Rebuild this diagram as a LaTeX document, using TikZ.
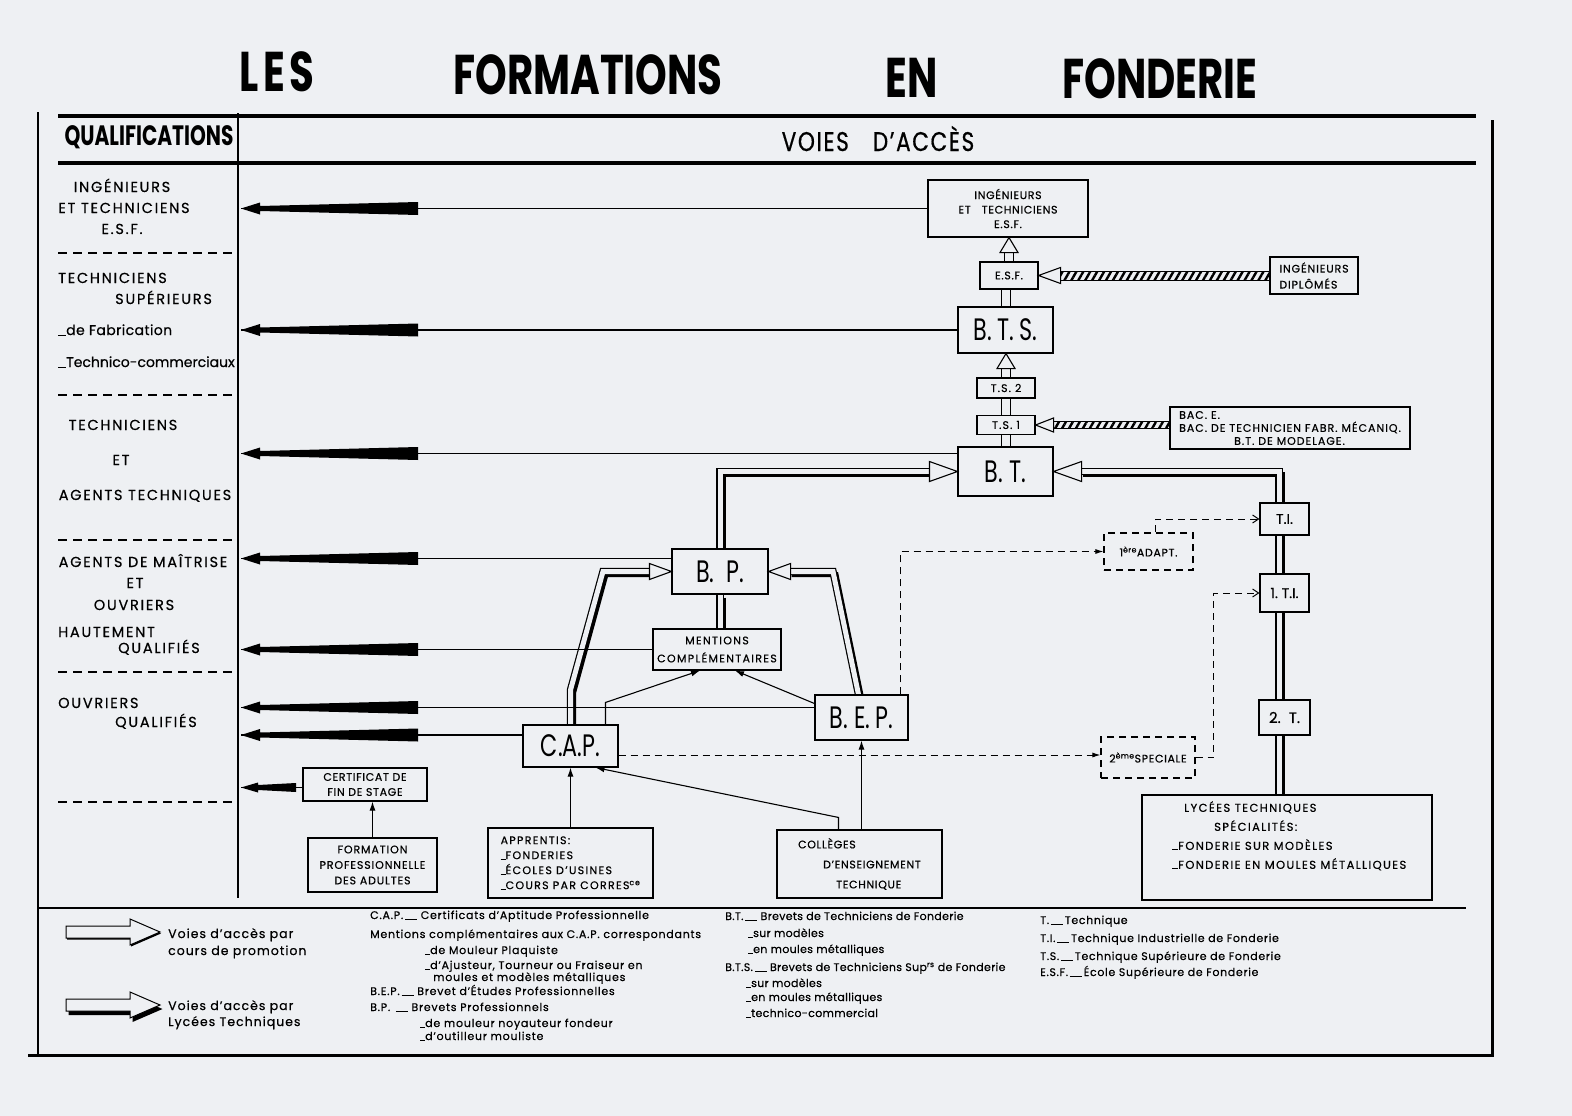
\documentclass[tikz,border=0pt]{standalone}
\usepackage{fontspec}
\setmainfont{Poppins}[FakeBold=0.5]
\newfontfamily\etroit[FakeStretch=0.72]{Poppins}
\newfontfamily\entete[FakeStretch=0.8,FakeBold=0.6]{Poppins}
\usetikzlibrary{arrows.meta,calc,backgrounds,patterns.meta}
\definecolor{Papier}{HTML}{EEF0F3}
\newcommand\trait[1][8pt]{\rule[-0.5pt]{#1}{0.9pt}}
\newcommand\ls[1]{\addfontfeatures{LetterSpace=#1}}
% tete creuse : pointe, angle, longueur, demi-largeur
\newcommand\tete[4]{\filldraw[fill=Papier, line width=1.1pt, shift={#1}, rotate=#2]
  (0,0) -- (-#3,#4) -- (-#3,-#4) -- cycle;}
% voie d'acces : ombre puis double trait
\newcommand\voie[1]{\draw[ombre] #1; \draw[voie] #1;}

\tikzset{
  boite/.style={draw, line width=1.1pt, fill=Papier, inner sep=0pt, align=center},
  pointilles/.style={boite, dash pattern=on 7pt off 5pt},
  grand/.style={font=\etroit\fontsize{31}{34}\selectfont},
  petit/.style={font=\fontsize{11}{14.5}\selectfont\ls{6}},
  moyen/.style={font=\fontsize{14}{16}\selectfont},
  lien/.style={line width=1.1pt},
  fleche/.style={lien, -{Latex[length=9pt,width=6pt]}},
  tiret/.style={line width=1pt, dash pattern=on 7pt off 5pt},
  ombre/.style={line width=5pt, transform canvas={shift={(3pt,-3pt)}}},
  voie/.style={line width=1.2pt, double=Papier, double distance=5pt},
  voiesimple/.style={line width=1pt, double=Papier, double distance=8pt},
  hachure/.style={draw, line width=0.9pt, preaction={fill=Papier},
    pattern={Lines[angle=60,distance=6pt,line width=2.4pt]}},
  qualtxt/.style={font=\fontsize{14.5}{16}\selectfont\ls{12}, inner sep=0pt, anchor=base},
  legende/.style={font=\fontsize{11}{13}\selectfont\ls{7}, inner sep=0pt, anchor=base west},
  separ/.style={line width=1.2pt, dash pattern=on 9pt off 6pt},
  qual/.pic={\fill (0,0) -- (19,-6) -- (19,-2.5) -- (177,-6.5) -- (177,6.5)
    -- (19,2.5) -- (19,6) -- cycle;},
  qualcourt/.pic={\fill (0,0) -- (17,-5) -- (17,-2.5) -- (55,-4.5) -- (55,4.5)
    -- (17,2.5) -- (17,5) -- cycle;},
}

\begin{document}
\begin{tikzpicture}[x=1pt,y=-1pt]
  \begin{scope}[on background layer]
    \fill[Papier] (0,0) rectangle (1572,1116);
  \end{scope}
  \useasboundingbox (0,0) rectangle (1572,1116);

  % Titre
  \node[font=\etroit\bfseries\fontsize{56}{60}\selectfont\ls{8}, anchor=base] (tles) at (277,92) {LES};
  \node[font=\etroit\bfseries\fontsize{56}{60}\selectfont, anchor=base] (tform) at (588,94) {FORMATIONS};
  \node[font=\etroit\bfseries\fontsize{56}{60}\selectfont, anchor=base] (ten) at (912,97) {EN};
  \node[font=\etroit\bfseries\fontsize{56}{60}\selectfont, anchor=base] (tfond) at (1160,99) {FONDERIE};

  % Cadre
  \draw[line width=4pt] (58,116) -- (1476,116);
  \draw[line width=3.5pt] (58,163) -- (1476,163);
  \draw[line width=2.5pt] (38,112) -- (38,1054);
  \draw[line width=3pt] (1492,120) -- (1492,1057);
  \draw[line width=3pt] (28,1055) -- (1493,1055);
  \draw[line width=2pt] (238,113) -- (238,898);
  \draw[line width=2.5pt] (38,908) -- (1466,908);
  \foreach \y in {253,395,540,672,802}
    \draw[separ] (58,\y) -- (236,\y);

  \node[font=\etroit\bfseries\fontsize{28}{30}\selectfont, anchor=base] (hqual) at (149,145) {QUALIFICATIONS};
  \node[font=\entete\fontsize{27}{30}\selectfont\ls{6}, anchor=base] (hvoies) at (878,151) {VOIES\hspace{24pt}D’ACCÈS};

  % Qualifications
  \node[qualtxt] (qa1) at (122,192) {INGÉNIEURS};
  \node[qualtxt] (qa2) at (124,213) {ET TECHNICIENS};
  \node[qualtxt] (qa3) at (122,234) {E.S.F.};
  \node[qualtxt, anchor=base west] (qb1) at (58,283) {TECHNICIENS};
  \node[qualtxt, anchor=base west] (qb2) at (115,304) {SUPÉRIEURS};
  \node[qualtxt, anchor=base west, font=\fontsize{14}{16}\selectfont\ls{3}] (qb3) at (58,335) {\trait de Fabrication};
  \node[qualtxt, anchor=base west, font=\fontsize{14}{16}\selectfont] (qb4) at (58,367) {\trait Technico-commerciaux};
  \node[qualtxt] (qc1) at (123,430) {TECHNICIENS};
  \node[qualtxt] (qc2) at (121,465) {ET};
  \node[qualtxt] (qc3) at (145,500) {AGENTS TECHNIQUES};
  \node[qualtxt] (qd1) at (143,567) {AGENTS DE MAÎTRISE};
  \node[qualtxt] (qd2) at (135,588) {ET};
  \node[qualtxt] (qd3) at (134,610) {OUVRIERS};
  \node[qualtxt, anchor=base west] (qd4) at (58,637) {HAUTEMENT};
  \node[qualtxt, anchor=base west] (qd5) at (118,653) {QUALIFIÉS};
  \node[qualtxt, anchor=base west] (qe1) at (58,708) {OUVRIERS};
  \node[qualtxt, anchor=base west] (qe2) at (115,727) {QUALIFIÉS};

  % Boites
  \node[boite, petit, minimum width=160, minimum height=57] (esfbox) at (1008,208.5)
    {INGÉNIEURS\\ET\quad TECHNICIENS\\E.S.F.};
  \node[boite, petit, minimum width=58, minimum height=27] (esf) at (1009,275.5) {E.S.F.};
  \node[boite, grand, minimum width=95, minimum height=46] (bts) at (1005.5,330) {B.\,T.\,S.};
  \node[boite, font=\fontsize{11}{13}\selectfont\ls{10}, minimum width=58, minimum height=20] (ts2) at (1006,388) {T.S. 2};
  \node[boite, font=\fontsize{11}{13}\selectfont\ls{10}, minimum width=58, minimum height=19] (ts1) at (1006,425) {T.S. 1};
  \node[boite, grand, minimum width=95, minimum height=49] (bt) at (1005.5,471.5) {B.\ T.};
  \node[boite, font=\fontsize{11}{16}\selectfont\ls{8}, align=left, minimum width=88,
    minimum height=37] (ingdipl) at (1314,275.5) {INGÉNIEURS\\DIPLÔMÉS};
  \node[boite, font=\fontsize{11}{13}\selectfont\ls{9}, align=left, minimum width=240,
    minimum height=42] (bac) at (1290,428)
    {BAC.\ E.\\BAC.\ DE TECHNICIEN FABR.\ MÉCANIQ.\\\hspace{55pt}B.T.\ DE MODELAGE.};
  \node[boite, grand, minimum width=96, minimum height=45] (bp) at (720,571.5) {B.\ \ P.};
  \node[boite, font=\fontsize{11}{18}\selectfont\ls{12}, minimum width=128, minimum height=41]
    (mentions) at (717,649.5) {MENTIONS\\COMPLÉMENTAIRES};
  \node[boite, grand, minimum width=93, minimum height=45] (bep) at (861.5,717.5) {B.\ E.\,P.};
  \node[boite, grand, minimum width=95, minimum height=42] (cap) at (570.5,746) {C.A.P.};
  \node[boite, font=\fontsize{11}{15}\selectfont\ls{6}, minimum width=124, minimum height=33]
    (certif) at (365,784.5) {CERTIFICAT\ DE\\FIN DE STAGE};
  \node[boite, font=\fontsize{11}{15.5}\selectfont\ls{8}, minimum width=129, minimum height=54]
    (fpa) at (372.5,865) {FORMATION\\PROFESSIONNELLE\\DES ADULTES};
  \node[boite, font=\fontsize{11}{15}\selectfont\ls{12}, align=left, minimum width=165,
    minimum height=70] (apprentis) at (570.5,863)
    {APPRENTIS:\\\trait[5pt]FONDERIES\\\trait[5pt]ÉCOLES D’USINES\\\trait[5pt]COURS PAR CORRES\textsuperscript{ce}};
  \node[boite, font=\fontsize{11}{20}\selectfont\ls{6}, align=left, minimum width=165,
    minimum height=68] (colleges) at (859.5,864)
    {COLLÈGES\\\hspace{25pt}D’ENSEIGNEMENT\\\hspace{38pt}TECHNIQUE};
  \node[boite, minimum width=290, minimum height=105] (lycees) at (1287,847.5) {};
  \node[font=\fontsize{11.5}{19}\selectfont\ls{12}, align=left, inner sep=0pt, anchor=north west]
    (lyceestxt) at (1172,801)
    {\hspace{12pt}LYCÉES TECHNIQUES\\\hspace{42pt}SPÉCIALITÉS:\\\trait[6pt]FONDERIE SUR MODÈLES\\\trait[6pt]FONDERIE EN MOULES MÉTALLIQUES};
  \node[boite, moyen, minimum width=49, minimum height=32] (ti) at (1284.5,519) {T.I.};
  \node[boite, moyen, minimum width=49, minimum height=38] (unti) at (1284.5,593) {1.\ T.I.};
  \node[boite, font=\fontsize{15}{17}\selectfont, minimum width=51, minimum height=35]
    (deuxt) at (1284.5,717.5) {2.\ \ T.};
  \node[pointilles, petit, minimum width=89, minimum height=37] (adapt) at (1148.5,551.5)
    {1\textsuperscript{ère}ADAPT.};
  \node[pointilles, petit, minimum width=94, minimum height=41] (speciale) at (1148,757.5)
    {2\textsuperscript{ème}SPECIALE};

  % Fleches vers les qualifications
  \coordinate (qcol) at (241,0);
  \coordinate (btq) at ([yshift=18pt]bt.west);
  \coordinate (bpq) at ([yshift=13pt]bp.west);
  \coordinate (bepq) at ([yshift=10pt]bep.west);
  \coordinate (capq) at ([yshift=11pt]cap.west);
  \coordinate (certq) at ([yshift=-3pt]certif.west);
  \foreach \b in {esfbox.west, bts.west, btq, bpq, mentions.west, bepq, capq} {
    \draw[lien] (\b) -- (\b -| qcol);
    \pic at (\b -| qcol) {qual};
  }
  \draw[lien] (certq) -- (certq -| qcol);
  \pic at (certq -| qcol) {qualcourt};

  % Voies d'acces (double trait)
  \coordinate (pipex) at (1279,0);
  \begin{scope}[on background layer]
    \voie{(cap.north) -- (570.5,690) -- (603,571.5) -- ($(bp.west)+(-20,0)$)}
    \voie{([xshift=-3pt]bep.north) -- (833,571.5) -- ($(bp.east)+(20,0)$)}
    \voie{(bp.south) -- (bp.south |- mentions.north)}
    \voie{(bp.north) |- ($(bt.west)+(-26,0)$)}
    \voie{(lycees.north -| pipex) |- ($(bt.east)+(26,0)$)}
    \draw[voiesimple] (bt.north) -- (bt.north |- ts1.south)
      (ts1.north) -- (ts1.north |- ts2.south)
      (ts2.north) -- ($(ts2.north |- bts.south)+(0,13)$)
      (bts.north) -- (bts.north |- esf.south)
      (esf.north) -- ($(esf.north |- esfbox.south)+(0,13)$);
  \end{scope}
  \tete{(bp.west)}{0}{22}{8}
  \tete{(bp.east)}{180}{22}{8}
  \tete{(bt.west)}{0}{28}{10}
  \tete{(bt.east)}{180}{28}{10}
  \tete{(ts2.north |- bts.south)}{90}{15}{9}
  \tete{(esf.north |- esfbox.south)}{90}{15}{9}

  % Voies hachurees
  \coordinate (ingg) at (ingdipl.west |- esf.east);
  \coordinate (bacg) at (bac.west |- ts1.east);
  \draw[hachure] ($(esf.east)+(20,-4.5)$) rectangle ($(ingg)+(0,4.5)$);
  \tete{(esf.east)}{180}{22}{8}
  \draw[hachure] ($(ts1.east)+(16,-3.5)$) rectangle ($(bacg)+(0,3.5)$);
  \tete{(ts1.east)}{180}{18}{7}

  % Liaisons simples
  \draw[fleche] (fpa.north) -- (fpa.north |- certif.south);
  \draw[fleche] (apprentis.north) -- (cap.south);
  \draw[fleche] ([xshift=-21pt]colleges.north) -- ++(0,-12) -- ([xshift=25pt]cap.south);
  \draw[fleche] (colleges.north -| bep.south) -- (bep.south);
  \draw[fleche] ([xshift=35pt]cap.north) -- ++(0,-22) -- ([xshift=-17pt]mentions.south);
  \draw[fleche] ([yshift=14pt]bep.west) -- ([xshift=18pt]mentions.south);

  % Liaisons en tirets
  \coordinate (capd) at ([yshift=-9pt]cap.east);
  \draw[tiret, -{Latex[length=8pt,width=5pt]}] ([xshift=-8pt]bep.north east) |- (adapt.west);
  \draw[tiret, -{Straight Barb[length=6pt,width=8pt]}] ([xshift=7pt]adapt.north) |- (ti.west);
  \draw[tiret, -{Latex[length=8pt,width=5pt]}] (capd) -- (capd -| speciale.west);
  \draw[tiret, -{Straight Barb[length=6pt,width=8pt]}] (speciale.east) -- ++(18,0) |- (unti.west);

  % Legende
  \foreach \y/\dx/\dy in {932/1/1.5, 1005/2.5/4} {
    \fill[shift={(66+\dx,\y+\dy)}] (0,-6) -- (64,-6) -- (64,-13) -- (94,0)
      -- (64,13) -- (64,6) -- (0,6) -- cycle;
    \filldraw[fill=Papier, line width=1pt, shift={(66,\y)}] (0,-6) -- (64,-6)
      -- (64,-13) -- (94,0) -- (64,13) -- (64,6) -- (0,6) -- cycle;
  }
  \node[legende, font=\fontsize{12.5}{14}\selectfont\ls{8}] (la1) at (168,938) {Voies d’accès par};
  \node[legende, font=\fontsize{12.5}{14}\selectfont\ls{8}] (la2) at (168,955) {cours de promotion};
  \node[legende, font=\fontsize{12.5}{14}\selectfont\ls{8}] (la3) at (168,1010) {Voies d’accès par};
  \node[legende, font=\fontsize{12.5}{14}\selectfont\ls{8}] (la4) at (168,1026) {Lycées Techniques};

  \node[legende] (lb1) at (370,919) {C.A.P.\,\trait[12pt]\ Certificats d’Aptitude Professionnelle};
  \node[legende] (lb2) at (370,938) {Mentions complémentaires aux C.A.P. correspondants};
  \node[legende] (lb3) at (425,954) {\trait[5pt]de Mouleur Plaquiste};
  \node[legende] (lb4) at (425,969) {\trait[5pt]d’Ajusteur, Tourneur ou Fraiseur en};
  \node[legende] (lb5) at (433,981) {moules et modèles métalliques};
  \node[legende] (lb6) at (370,995) {B.E.P.\,\trait[12pt]\ Brevet d’Études Professionnelles};
  \node[legende] (lb7) at (370,1011) {B.P.\ \,\trait[12pt]\ Brevets Professionnels};
  \node[legende] (lb8) at (420,1027) {\trait[5pt]de mouleur noyauteur fondeur};
  \node[legende] (lb9) at (420,1040) {\trait[5pt]d’outilleur mouliste};

  \node[legende, font=\fontsize{11}{13}\selectfont\ls{3}] (lc1) at (725,920) {B.T.\,\trait[12pt]\ Brevets de Techniciens de Fonderie};
  \node[legende, font=\fontsize{11}{13}\selectfont\ls{3}] (lc2) at (748,937) {\trait[5pt]sur modèles};
  \node[legende, font=\fontsize{11}{13}\selectfont\ls{3}] (lc3) at (748,953) {\trait[5pt]en moules métalliques};
  \node[legende, font=\fontsize{11}{13}\selectfont\ls{3}] (lc4) at (725,971) {B.T.S.\,\trait[12pt]\ Brevets de Techniciens Sup\textsuperscript{rs} de Fonderie};
  \node[legende, font=\fontsize{11}{13}\selectfont\ls{3}] (lc5) at (746,987) {\trait[5pt]sur modèles};
  \node[legende, font=\fontsize{11}{13}\selectfont\ls{3}] (lc6) at (746,1001) {\trait[5pt]en moules métalliques};
  \node[legende, font=\fontsize{11}{13}\selectfont\ls{3}] (lc7) at (746,1017) {\trait[5pt]technico-commercial};

  \node[legende, font=\fontsize{11}{13}\selectfont\ls{6}] (ld1) at (1040,924) {T.\,\trait[12pt]\,Technique};
  \node[legende, font=\fontsize{11}{13}\selectfont\ls{6}] (ld2) at (1040,942) {T.I.\,\trait[12pt]\,Technique Industrielle de Fonderie};
  \node[legende, font=\fontsize{11}{13}\selectfont\ls{6}] (ld3) at (1040,960) {T.S.\,\trait[12pt]\,Technique Supérieure de Fonderie};
  \node[legende, font=\fontsize{11}{13}\selectfont\ls{6}] (ld4) at (1040,976) {E.S.F.\,\trait[12pt]\,École Supérieure de Fonderie};
\end{tikzpicture}
\end{document}
